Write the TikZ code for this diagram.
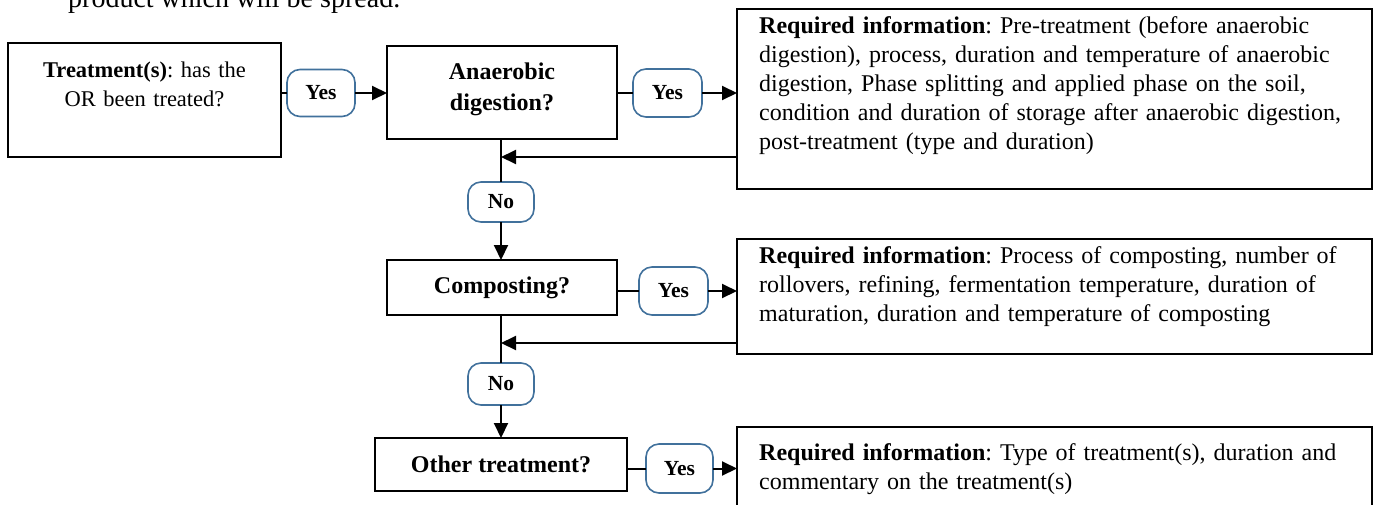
\documentclass[tikz,border=0pt]{standalone}
\usepackage{fontspec}
\setmainfont{Liberation Serif}
\usetikzlibrary{arrows.meta,calc}
\definecolor{pillblue}{RGB}{65,113,156}
\frenchspacing
\begin{document}
\begin{tikzpicture}[x=1pt,y=-1pt,
  box/.style={draw=black, line width=2.8pt, inner sep=0pt, outer sep=0pt, rectangle},
  pill/.style={draw=pillblue, line width=1.6pt, rounded corners=13pt, inner sep=0pt, outer sep=0pt, fill=white, font=\fontsize{21.5}{24}\selectfont\bfseries},
  txt/.style={inner sep=0pt, font=\fontsize{24}{29}\selectfont},
  qtxt/.style={font=\fontsize{24}{29}\selectfont\bfseries},
  conn/.style={draw=black, line width=2pt},
  arr/.style={conn, -{Triangle[length=15pt,width=14pt]}},
]
\useasboundingbox (0,0) rectangle (1380,504);

% partial line of body text at the top
\node[inner sep=0pt, anchor=base west, font=\fontsize{28}{34}\selectfont] (intro) at (68,7) {product which will be spread.};

% left column boxes
\node[box, minimum width=273, minimum height=114] (treat) at (144.5,100) {};
\node[txt, font=\fontsize{22.5}{29}\selectfont, text width=260pt, align=center, anchor=base] (treatt) at (144.5,77) {\textbf{Treatment(s)}: has the\\OR been treated?};

\node[box, minimum width=230, minimum height=93] (ad) at (502,92.5) {};
\node[txt, font=\fontsize{24}{31}\selectfont\bfseries, text width=220pt, align=center, anchor=base] (adt) at (502,79) {Anaerobic\\digestion?};

\node[box, qtxt, minimum width=230, minimum height=55] (comp) at (502,287.5) {Composting?};
\node[box, qtxt, minimum width=252, minimum height=53] (oth) at (501,464.5) {Other treatment?};

% required information boxes
\node[box, minimum width=635, minimum height=180] (ri1) at (1054.5,99) {};
\node[txt, text width=591pt, align=left, anchor=base west] (ri1t) at (759,33) {\textbf{Required information}: Pre-treatment (before anaerobic\\digestion), process, duration and temperature of anaerobic\\digestion, Phase splitting and applied phase on the soil,\\condition and duration of storage after anaerobic digestion,\\post-treatment (type and duration)};

\node[box, minimum width=635, minimum height=115] (ri2) at (1054.5,296.5) {};
\node[txt, text width=591pt, align=left, anchor=base west] (ri2t) at (759,263) {\textbf{Required information}: Process of composting, number of\\rollovers, refining, fermentation temperature, duration of\\maturation, duration and temperature of composting};

\node[box, minimum width=635, minimum height=93] (ri3) at (1054.5,473.5) {};
\node[txt, text width=591pt, align=left, anchor=base west] (ri3t) at (759,460) {\textbf{Required information}: Type of treatment(s), duration and\\commentary on the treatment(s)};

% pills
\node[pill, minimum width=68, minimum height=47] (yes1) at (321,93) {Yes};
\node[pill, minimum width=69, minimum height=48] (yes2) at (667.5,93) {Yes};
\node[pill, minimum width=66, minimum height=40] (no1) at (501,202) {No};
\node[pill, minimum width=69, minimum height=48] (yes3) at (673.5,291) {Yes};
\node[pill, minimum width=66, minimum height=42] (no2) at (501,384) {No};
\node[pill, minimum width=67, minimum height=49] (yes4) at (679.5,468.5) {Yes};

% junction points of return arrows
\coordinate (j1) at (501,157);
\coordinate (j2) at (501,343);

% connectors
\draw[conn] (treat.east |- yes1.west) -- (yes1.west);
\draw[arr] (yes1.east) -- (yes1.east -| ad.west);
\draw[conn] (ad.east |- yes2.west) -- (yes2.west);
\draw[arr] (yes2.east) -- (yes2.east -| ri1.west);
\draw[arr] (j1 -| ri1.west) -- (j1);
\draw[conn] (no1.north |- ad.south) -- (no1.north);
\draw[arr] (no1.south) -- (no1.south |- comp.north);
\draw[conn] (comp.east |- yes3.west) -- (yes3.west);
\draw[arr] (yes3.east) -- (yes3.east -| ri2.west);
\draw[arr] (j2 -| ri2.west) -- (j2);
\draw[conn] (no2.north |- comp.south) -- (no2.north);
\draw[arr] (no2.south) -- (no2.south |- oth.north);
\draw[conn] (oth.east |- yes4.west) -- (yes4.west);
\draw[arr] (yes4.east) -- (yes4.east -| ri3.west);
\end{tikzpicture}
\end{document}
